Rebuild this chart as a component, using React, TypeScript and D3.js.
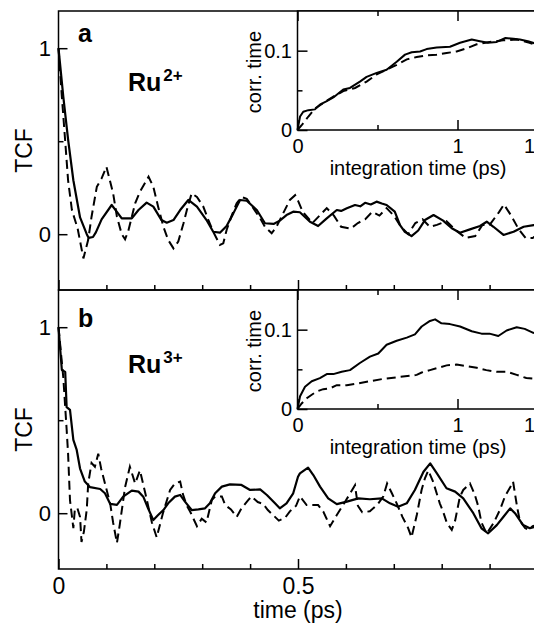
import React, { useRef, useEffect } from 'react';
import * as d3 from 'd3';

const W = 534;
const H = 623;
const FONT = "'Liberation Sans', Arial, Helvetica, sans-serif";

// panel a, Ru2+ : [time (ps), TCF]
const ru2Solid: [number, number][] = [
  [0, 1.0], [0.01, 0.74], [0.02, 0.51], [0.031, 0.29], [0.045, 0.09], [0.059, 0.0],
  [0.063, -0.02], [0.072, -0.015], [0.078, 0.01], [0.09, 0.08], [0.111, 0.157],
  [0.122, 0.12], [0.132, 0.085], [0.153, 0.085], [0.167, 0.13], [0.184, 0.17],
  [0.198, 0.148], [0.215, 0.076], [0.226, 0.062], [0.24, 0.076], [0.254, 0.13],
  [0.271, 0.184], [0.289, 0.148], [0.309, 0.076], [0.323, 0.013], [0.337, 0.008],
  [0.351, 0.044], [0.365, 0.112], [0.379, 0.184], [0.393, 0.18], [0.414, 0.13],
  [0.431, 0.059], [0.449, 0.055], [0.462, 0.073], [0.476, 0.103], [0.49, 0.121],
  [0.504, 0.118], [0.525, 0.067], [0.542, 0.044], [0.56, 0.085], [0.581, 0.13],
  [0.59, 0.125], [0.602, 0.139], [0.619, 0.157], [0.63, 0.15], [0.64, 0.169],
  [0.652, 0.16], [0.664, 0.175], [0.675, 0.165], [0.685, 0.157], [0.702, 0.121],
  [0.713, 0.049], [0.723, 0.013], [0.737, -0.01], [0.751, 0.02], [0.765, 0.076],
  [0.783, 0.103], [0.803, 0.073], [0.821, 0.032], [0.838, 0.008], [0.859, 0.026],
  [0.88, 0.044], [0.894, 0.067], [0.908, 0.04], [0.929, -0.004], [0.95, 0.013],
  [0.971, 0.04], [0.992, 0.049], [1.0, 0.05],
];

const ru2Dashed: [number, number][] = [
  [0, 1.0], [0.007, 0.74], [0.014, 0.5], [0.02, 0.29], [0.028, 0.13], [0.04, 0.03],
  [0.052, -0.13], [0.062, -0.03], [0.069, 0.094], [0.08, 0.255], [0.09, 0.3],
  [0.1, 0.363], [0.114, 0.22], [0.122, 0.094], [0.132, 0.0], [0.139, -0.027],
  [0.146, 0.02], [0.16, 0.166], [0.17, 0.228], [0.188, 0.309], [0.198, 0.255],
  [0.208, 0.148], [0.219, 0.04], [0.229, -0.031], [0.24, -0.076], [0.25, -0.04],
  [0.261, 0.059], [0.268, 0.13], [0.278, 0.22], [0.289, 0.2], [0.302, 0.15],
  [0.313, 0.076], [0.323, 0.013], [0.337, -0.058], [0.344, -0.049], [0.351, 0.023],
  [0.362, 0.103], [0.372, 0.166], [0.382, 0.2], [0.393, 0.19], [0.407, 0.139],
  [0.421, 0.085], [0.431, 0.04], [0.445, 0.005], [0.455, 0.04], [0.469, 0.112],
  [0.483, 0.184], [0.494, 0.21], [0.5, 0.18], [0.51, 0.12], [0.53, 0.06],
  [0.545, 0.1], [0.56, 0.14], [0.575, 0.1], [0.59, 0.04], [0.61, 0.03],
  [0.625, 0.06], [0.64, 0.08], [0.655, 0.12], [0.67, 0.1], [0.685, 0.14],
  [0.7, 0.1], [0.715, 0.04], [0.73, 0.0], [0.745, 0.06], [0.76, 0.08],
  [0.775, 0.04], [0.79, 0.05], [0.81, 0.07], [0.83, 0.02], [0.85, -0.02],
  [0.87, -0.01], [0.885, 0.05], [0.9, 0.05], [0.92, 0.12], [0.93, 0.16],
  [0.945, 0.1], [0.96, 0.03], [0.975, -0.02], [0.99, -0.02], [1.0, 0.0],
];

// panel b, Ru3+
const ru3Solid: [number, number][] = [
  [0, 1.0], [0.007, 0.77], [0.014, 0.76], [0.017, 0.57], [0.024, 0.555], [0.031, 0.394],
  [0.038, 0.34], [0.045, 0.24], [0.055, 0.17], [0.066, 0.14], [0.087, 0.13],
  [0.097, 0.107], [0.108, 0.05], [0.122, 0.045], [0.135, 0.089], [0.153, 0.121],
  [0.167, 0.116], [0.177, 0.089], [0.187, 0.026], [0.198, -0.037], [0.208, -0.01],
  [0.219, 0.017], [0.229, 0.053], [0.243, 0.089], [0.254, 0.098], [0.264, 0.062],
  [0.278, 0.017], [0.292, 0.021], [0.306, 0.026], [0.316, 0.053], [0.327, 0.107],
  [0.341, 0.143], [0.358, 0.155], [0.382, 0.152], [0.4, 0.125], [0.421, 0.128],
  [0.435, 0.098], [0.452, 0.053], [0.462, 0.026], [0.476, 0.053], [0.49, 0.107],
  [0.5, 0.196], [0.504, 0.214], [0.521, 0.245], [0.532, 0.205], [0.546, 0.143],
  [0.563, 0.08], [0.581, 0.049], [0.602, 0.062], [0.626, 0.08], [0.65, 0.075],
  [0.675, 0.08], [0.692, 0.053], [0.709, 0.035], [0.727, 0.053], [0.744, 0.125],
  [0.762, 0.223], [0.776, 0.268], [0.79, 0.214], [0.81, 0.134], [0.828, 0.116],
  [0.845, 0.08], [0.866, 0.0], [0.883, -0.081], [0.897, -0.108], [0.915, -0.064],
  [0.929, -0.019], [0.943, 0.026], [0.953, 0.0], [0.97, -0.064], [0.984, -0.081],
  [1.0, -0.07],
];

const ru3Dashed: [number, number][] = [
  [0, 1.0], [0.01, 0.73], [0.017, 0.45], [0.02, 0.32], [0.024, 0.07], [0.031, -0.08],
  [0.034, 0.017], [0.039, 0.03], [0.045, -0.02], [0.048, -0.155], [0.053, -0.1],
  [0.059, 0.02], [0.062, 0.16], [0.069, 0.27], [0.076, 0.25], [0.083, 0.32],
  [0.089, 0.24], [0.097, 0.16], [0.108, 0.05], [0.114, -0.05], [0.122, -0.16],
  [0.128, -0.06], [0.139, 0.14], [0.149, 0.25], [0.16, 0.16], [0.17, 0.23],
  [0.181, 0.11], [0.195, -0.05], [0.205, -0.13], [0.218, 0.0], [0.233, 0.125],
  [0.243, 0.16], [0.254, 0.17], [0.26, 0.1], [0.268, 0.04], [0.275, 0.008],
  [0.289, -0.07], [0.299, -0.03], [0.309, -0.05], [0.32, 0.07], [0.327, 0.09],
  [0.341, 0.09], [0.348, 0.044], [0.36, 0.02], [0.372, -0.02], [0.382, 0.026],
  [0.396, 0.07], [0.403, 0.09], [0.416, 0.06], [0.427, 0.05], [0.437, 0.017],
  [0.448, -0.01], [0.46, -0.04], [0.473, -0.025], [0.483, 0.01], [0.496, 0.04],
  [0.504, 0.09], [0.518, 0.044], [0.542, 0.044], [0.553, 0.008], [0.567, -0.07],
  [0.581, -0.01], [0.598, 0.06], [0.619, 0.15], [0.625, 0.04], [0.634, 0.005],
  [0.65, 0.01], [0.667, 0.05], [0.678, 0.09], [0.686, 0.16], [0.696, 0.107],
  [0.706, 0.053], [0.718, -0.02], [0.73, -0.08], [0.737, -0.13], [0.748, -0.01],
  [0.758, 0.125], [0.765, 0.188], [0.772, 0.23], [0.782, 0.17], [0.796, 0.053],
  [0.803, 0.008], [0.811, -0.054], [0.821, -0.09], [0.828, -0.04], [0.838, 0.089],
  [0.845, 0.125], [0.859, 0.16], [0.869, 0.1], [0.876, 0.04], [0.883, -0.05],
  [0.894, -0.11], [0.909, -0.05], [0.922, 0.02], [0.932, 0.09], [0.943, 0.14],
  [0.949, 0.17], [0.957, 0.04], [0.963, -0.04], [0.974, -0.08], [0.981, -0.09],
  [0.99, -0.07], [1.0, -0.06],
];

// insets: [integration time (ps), corr. time]
const ru2InsetSolid: [number, number][] = [
  [0, 0], [0.016, 0.017], [0.036, 0.023], [0.068, 0.025], [0.109, 0.026], [0.14, 0.032],
  [0.18, 0.036], [0.224, 0.041], [0.286, 0.051], [0.328, 0.053], [0.39, 0.061],
  [0.432, 0.067], [0.495, 0.072], [0.557, 0.076], [0.62, 0.086], [0.672, 0.095],
  [0.714, 0.098], [0.766, 0.099], [0.807, 0.102], [0.87, 0.104], [0.953, 0.105],
  [1.016, 0.11], [1.089, 0.114], [1.14, 0.112], [1.19, 0.11], [1.245, 0.111],
  [1.3, 0.116], [1.35, 0.115], [1.39, 0.114], [1.44, 0.112], [1.5, 0.108],
];

const ru2InsetDashed: [number, number][] = [
  [0, 0], [0.026, 0.006], [0.068, 0.017], [0.109, 0.027], [0.16, 0.034], [0.224, 0.042],
  [0.286, 0.049], [0.36, 0.053], [0.432, 0.061], [0.495, 0.07], [0.557, 0.076],
  [0.62, 0.082], [0.683, 0.089], [0.745, 0.092], [0.807, 0.094], [0.87, 0.095],
  [0.932, 0.097], [0.995, 0.099], [1.058, 0.103], [1.12, 0.108], [1.2, 0.111],
  [1.285, 0.113], [1.37, 0.114], [1.45, 0.11], [1.5, 0.106],
];

const ru3InsetSolid: [number, number][] = [
  [0, 0], [0.016, 0.016], [0.047, 0.028], [0.089, 0.035], [0.14, 0.039], [0.183, 0.044],
  [0.224, 0.044], [0.276, 0.047], [0.328, 0.049], [0.39, 0.058], [0.453, 0.066],
  [0.505, 0.07], [0.557, 0.081], [0.62, 0.086], [0.683, 0.09], [0.734, 0.094],
  [0.776, 0.104], [0.828, 0.111], [0.86, 0.113], [0.9, 0.108], [0.953, 0.107],
  [1.016, 0.104], [1.089, 0.098], [1.15, 0.095], [1.2, 0.095], [1.255, 0.092],
  [1.307, 0.099], [1.37, 0.103], [1.42, 0.101], [1.474, 0.096], [1.5, 0.095],
];

const ru3InsetDashed: [number, number][] = [
  [0, 0], [0.026, 0.007], [0.058, 0.0135], [0.089, 0.018], [0.12, 0.022], [0.161, 0.025],
  [0.203, 0.026], [0.245, 0.03], [0.308, 0.03], [0.37, 0.032], [0.453, 0.035],
  [0.536, 0.038], [0.62, 0.04], [0.703, 0.042], [0.745, 0.043], [0.776, 0.046],
  [0.828, 0.049], [0.88, 0.052], [0.932, 0.055], [0.995, 0.056], [1.058, 0.054],
  [1.12, 0.052], [1.18, 0.049], [1.245, 0.047], [1.307, 0.047], [1.37, 0.043],
  [1.43, 0.039], [1.5, 0.038],
];

// ticks
const timeMinorTicks = [0.1, 0.2, 0.3, 0.4, 0.6, 0.7, 0.8, 0.9];
const timeMajorTicks = [0, 0.5];
const timeTickLabels = ['0', '0.5'];
const tcfMajorTicks = [0, 1];
const tcfTickLabels = ['0', '1'];
const tcfMinorTicks = [0.5];
const insetXMajorTicks = [0, 1, 1.5];
const insetXTickLabels = ['0', '1', '1.5'];
const insetXMinorTicks = [0.5];
const insetYMajorTicks = [0, 0.1];
const insetYTickLabels = ['0', '0.1'];
const insetYMinorTicks = [0.05];

const panels = [
  { top: 11, bottom: 290, letter: 'a', ion: 'Ru', charge: '2+', solid: ru2Solid, dashed: ru2Dashed, inSolid: ru2InsetSolid, inDashed: ru2InsetDashed, labels: false },
  { top: 290, bottom: 569, letter: 'b', ion: 'Ru', charge: '3+', solid: ru3Solid, dashed: ru3Dashed, inSolid: ru3InsetSolid, inDashed: ru3InsetDashed, labels: true },
];

const App = () => {
  const svgRef = useRef<SVGSVGElement>(null);

  useEffect(() => {
    const svg = d3.select(svgRef.current);
    svg.selectAll('*').remove();

    const left = 58.5;
    const right = 537.5;
    const x = d3.scaleLinear().domain([0, 1]).range([left, right]);
    const xIn = d3.scaleLinear().domain([0, 1.5]).range([297.5, 537.5]);

    const styleAxis = (g: any, size: number) => {
      g.attr('font-family', FONT).attr('font-size', size);
      g.select('.domain').remove();
      g.selectAll('line').attr('stroke', '#000').attr('stroke-width', 1.5);
      g.selectAll('text').attr('fill', '#000');
    };

    panels.forEach((p, i) => {
      const y = d3.scaleLinear().domain([-0.3, 1.2]).range([p.bottom, p.top]);
      const g = svg.append('g');

      const line = d3.line<[number, number]>()
        .x((d) => x(d[0]))
        .y((d) => y(d[1]));

      g.append('path').attr('d', line(p.dashed)).attr('fill', 'none')
        .attr('stroke', '#000').attr('stroke-width', 2).attr('stroke-dasharray', '9,5');
      g.append('path').attr('d', line(p.solid)).attr('fill', 'none')
        .attr('stroke', '#000').attr('stroke-width', 2.2).attr('stroke-linejoin', 'round');

      // frame
      g.append('rect').attr('x', left).attr('y', p.top)
        .attr('width', right - left).attr('height', p.bottom - p.top)
        .attr('fill', 'none').attr('stroke', '#000').attr('stroke-width', 1.5);

      // time axis (inward ticks)
      g.append('g').attr('transform', `translate(0,${p.bottom})`)
        .call(d3.axisBottom(x).tickValues(timeMinorTicks).tickSizeInner(-5).tickSizeOuter(0).tickFormat(() => ''))
        .call((a) => styleAxis(a, 23));
      g.append('g').attr('transform', `translate(0,${p.bottom})`)
        .call(d3.axisBottom(x).tickValues(timeMajorTicks).tickSizeInner(-10).tickSizeOuter(0).tickPadding(9)
          .tickFormat((d, k) => (p.labels ? timeTickLabels[k] : '')))
        .call((a) => styleAxis(a, 23));

      // TCF axis
      g.append('g').attr('transform', `translate(${left},0)`)
        .call(d3.axisLeft(y).tickValues(tcfMinorTicks).tickSizeInner(-5).tickSizeOuter(0).tickFormat(() => ''))
        .call((a) => styleAxis(a, 22));
      g.append('g').attr('transform', `translate(${left},0)`)
        .call(d3.axisLeft(y).tickValues(tcfMajorTicks).tickSizeInner(-9).tickSizeOuter(0).tickPadding(7.5)
          .tickFormat((d, k) => tcfTickLabels[k]))
        .call((a) => styleAxis(a, 22));

      g.append('text').attr('transform', `translate(32,${(p.top + p.bottom) / 2 + (i ? 0 : 0)}) rotate(-90)`)
        .attr('text-anchor', 'middle').attr('font-family', FONT).attr('font-size', 23).text('TCF');

      g.append('text').attr('x', 78).attr('y', p.top + (i ? 37 : 31))
        .attr('font-family', FONT).attr('font-size', 25).attr('font-weight', 'bold').text(p.letter);

      const ru = g.append('text').attr('x', 128).attr('y', p.top + (i ? 83 : 80))
        .attr('font-family', FONT).attr('font-size', 25).attr('font-weight', 'bold');
      ru.append('tspan').text(p.ion);
      ru.append('tspan').attr('dx', 2).attr('dy', -10).attr('font-size', 17).text(p.charge);

      // inset
      const iTop = p.top;
      const iBottom = p.top + 119;
      const yIn = d3.scaleLinear().domain([0, 0.15]).range([iBottom, iTop]);
      const ig = svg.append('g');
      ig.append('rect').attr('x', xIn(0)).attr('y', iTop)
        .attr('width', xIn(1.5) - xIn(0)).attr('height', iBottom - iTop)
        .attr('fill', '#fff').attr('stroke', '#000').attr('stroke-width', 1.5);

      const inLine = d3.line<[number, number]>()
        .x((d) => xIn(d[0]))
        .y((d) => yIn(d[1]));
      ig.append('path').attr('d', inLine(p.inDashed)).attr('fill', 'none')
        .attr('stroke', '#000').attr('stroke-width', 2).attr('stroke-dasharray', '9,5');
      ig.append('path').attr('d', inLine(p.inSolid)).attr('fill', 'none')
        .attr('stroke', '#000').attr('stroke-width', 2).attr('stroke-linejoin', 'round');

      ig.append('g').attr('transform', `translate(0,${iBottom})`)
        .call(d3.axisBottom(xIn).tickValues(insetXMinorTicks).tickSizeInner(-5).tickSizeOuter(0).tickFormat(() => ''))
        .call((a) => styleAxis(a, 20));
      ig.append('g').attr('transform', `translate(0,${iBottom})`)
        .call(d3.axisBottom(xIn).tickValues(insetXMajorTicks).tickSizeInner(-10).tickSizeOuter(0).tickPadding(9)
          .tickFormat((d, k) => insetXTickLabels[k]))
        .call((a) => styleAxis(a, 20));
      ig.append('g').attr('transform', `translate(0,${iTop})`)
        .call(d3.axisTop(xIn).tickValues(insetXMinorTicks).tickSizeInner(-5).tickSizeOuter(0).tickFormat(() => ''))
        .call((a) => styleAxis(a, 20));
      ig.append('g').attr('transform', `translate(0,${iTop})`)
        .call(d3.axisTop(xIn).tickValues(insetXMajorTicks).tickSizeInner(-10).tickSizeOuter(0).tickFormat(() => ''))
        .call((a) => styleAxis(a, 20));
      ig.append('g').attr('transform', `translate(${xIn(0)},0)`)
        .call(d3.axisLeft(yIn).tickValues(insetYMinorTicks).tickSizeInner(-5).tickSizeOuter(0).tickFormat(() => ''))
        .call((a) => styleAxis(a, 20));
      ig.append('g').attr('transform', `translate(${xIn(0)},0)`)
        .call(d3.axisLeft(yIn).tickValues(insetYMajorTicks).tickSizeInner(-10).tickSizeOuter(0).tickPadding(5.5)
          .tickFormat((d, k) => insetYTickLabels[k]))
        .call((a) => styleAxis(a, 20));

      ig.append('text').attr('x', 418).attr('y', iBottom + 45)
        .attr('text-anchor', 'middle').attr('font-family', FONT).attr('font-size', 20)
        .text('integration time (ps)');
      ig.append('text').attr('transform', `translate(261,${iTop + 61}) rotate(-90)`)
        .attr('text-anchor', 'middle').attr('font-family', FONT).attr('font-size', 20)
        .text('corr. time');
    });

    svg.append('text').attr('x', x(0.5)).attr('y', 618)
      .attr('text-anchor', 'middle').attr('font-family', FONT).attr('font-size', 23)
      .text('time (ps)');
  }, []);

  return (
    <svg
      ref={svgRef}
      width={W}
      height={H}
      style={{ position: 'absolute', left: 0, top: 0, background: '#fff' }}
    />
  );
};

export default App;
